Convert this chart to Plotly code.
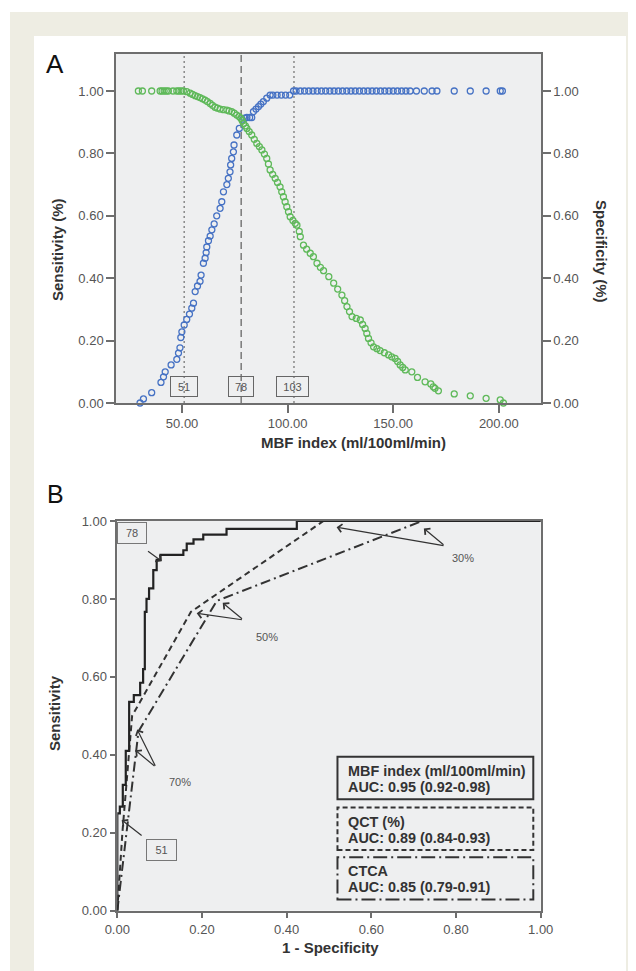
import plotly.graph_objects as go

# ---------------- Data ----------------
# Panel A: sensitivity (blue) vs MBF index
sens_mbf = [30.1, 31.7, 35.6, 40.0, 41.2, 42.0, 44.8, 47.5, 48.3, 49.0, 49.4, 49.9, 51.0, 52.2,
            53.5, 54.6, 55.4, 56.2, 57.3, 58.5, 59.0, 60.1, 60.9, 61.4, 61.7, 62.5, 63.3, 64.1,
            65.2, 66.4, 68.0, 68.8, 69.6, 71.2, 71.9, 72.7, 73.0, 73.5, 74.3, 74.6, 75.9, 77.1,
            78.6, 79.6, 80.7, 82.0, 83.0, 83.8, 85.0, 86.2, 87.3, 88.5, 90.1, 91.7, 93.0, 95.0,
            97.0, 99.0, 101.0, 102.8, 104.0, 106.0, 108.0, 110.0, 112.0, 114.0, 116.0, 118.0,
            120.0, 122.0, 124.0, 126.0, 128.0, 130.0, 132.0, 134.0, 136.0, 138.0, 140.0, 142.0,
            144.0, 146.0, 148.0, 150.0, 152.0, 154.0, 156.0, 158.0, 161.0, 164.7, 168.4, 170.7,
            178.9, 186.5, 194.0, 200.7, 201.7]
sens_val = [0.0, 0.013, 0.033, 0.066, 0.084, 0.10, 0.122, 0.14, 0.16, 0.177, 0.21, 0.228, 0.25, 0.268,
            0.285, 0.304, 0.32, 0.357, 0.375, 0.39, 0.41, 0.448, 0.464, 0.482, 0.50, 0.52, 0.535, 0.555,
            0.574, 0.60, 0.624, 0.645, 0.677, 0.70, 0.72, 0.741, 0.763, 0.784, 0.805, 0.827, 0.859, 0.88,
            0.907, 0.913, 0.915, 0.915, 0.915, 0.934, 0.942, 0.95, 0.958, 0.966, 0.977, 0.987, 0.987, 0.987,
            0.987, 0.987, 0.987, 1.0, 1.0, 1.0, 1.0, 1.0, 1.0, 1.0, 1.0, 1.0,
            1.0, 1.0, 1.0, 1.0, 1.0, 1.0, 1.0, 1.0, 1.0, 1.0, 1.0, 1.0,
            1.0, 1.0, 1.0, 1.0, 1.0, 1.0, 1.0, 1.0, 1.0, 1.0, 1.0, 1.0,
            1.0, 1.0, 1.0, 1.0, 1.0]

# Panel A: specificity (green) vs MBF index
spec_mbf = [29.3, 31.2, 35.6, 39.6, 40.5, 41.5, 42.5, 43.5, 45.7, 47.5, 48.5, 49.5, 50.6,
            52.2, 53.8, 55.0, 56.2, 57.3, 58.5, 59.7, 60.9, 62.0, 63.3, 64.4, 65.6, 66.8, 68.0,
            69.6, 71.2, 72.3, 73.5, 74.7, 75.9, 77.0, 77.8, 78.5, 79.1, 80.0, 80.7, 81.8, 83.0,
            84.2, 85.4, 86.6, 87.8, 89.0, 90.1, 90.9, 91.7, 92.9, 94.1, 95.2, 96.4, 97.2, 98.0,
            98.8, 99.6, 100.4, 101.2, 102.5, 103.6, 104.4, 105.5, 106.0, 107.5, 109.0, 110.7,
            112.2, 113.9, 115.5, 117.0, 119.5, 121.8, 123.7, 125.7, 127.0, 128.1, 129.3, 130.5,
            132.5, 134.4, 135.5, 136.7, 137.5, 138.3, 139.5, 140.7, 142.3, 143.8, 145.8, 147.8,
            149.3, 150.9, 152.1, 153.3, 154.5, 155.7, 158.8, 161.5, 165.1, 167.8, 169.0, 169.8,
            171.4, 178.9, 186.5, 194.0, 200.7, 202.2]
spec_val = [1.0, 1.0, 1.0, 1.0, 1.0, 1.0, 1.0, 1.0, 1.0, 1.0, 1.0, 1.0, 1.0,
            0.998, 0.993, 0.989, 0.985, 0.982, 0.979, 0.975, 0.971, 0.966, 0.96, 0.954, 0.948, 0.945, 0.942,
            0.94, 0.939, 0.936, 0.934, 0.929, 0.923, 0.918, 0.913, 0.905, 0.896, 0.888, 0.88, 0.87, 0.859,
            0.845, 0.832, 0.822, 0.811, 0.798, 0.784, 0.766, 0.747, 0.733, 0.72, 0.707, 0.693, 0.677, 0.661,
            0.645, 0.629, 0.613, 0.597, 0.585, 0.576, 0.57, 0.55, 0.533, 0.506, 0.493, 0.48,
            0.469, 0.448, 0.435, 0.424, 0.405, 0.384, 0.365, 0.346, 0.328, 0.309, 0.293, 0.277,
            0.271, 0.266, 0.252, 0.239, 0.223, 0.207, 0.193, 0.18, 0.174, 0.168, 0.161, 0.154,
            0.148, 0.143, 0.133, 0.122, 0.114, 0.106, 0.10, 0.082, 0.068, 0.061, 0.052, 0.047,
            0.039, 0.029, 0.023, 0.015, 0.01, 0.0]

cutoffs = [51, 78, 103]
cutoff_labels = ["51", "78", "103"]

# Panel B: ROC curves
mbf_fpr = [0, 0, 0.006, 0.006, 0.013, 0.013, 0.020, 0.020, 0.028, 0.028, 0.039, 0.039, 0.054, 0.054,
           0.061, 0.061, 0.065, 0.065, 0.069, 0.069, 0.075, 0.075, 0.085, 0.085, 0.093, 0.093, 0.102,
           0.102, 0.156, 0.156, 0.164, 0.164, 0.180, 0.180, 0.203, 0.203, 0.258, 0.258, 0.424, 0.424, 1.0]
mbf_tpr = [0, 0.25, 0.25, 0.267, 0.267, 0.323, 0.323, 0.41, 0.41, 0.536, 0.536, 0.553, 0.553, 0.585,
           0.585, 0.62, 0.62, 0.767, 0.767, 0.80, 0.80, 0.827, 0.827, 0.874, 0.874, 0.90, 0.90,
           0.913, 0.913, 0.925, 0.925, 0.942, 0.942, 0.953, 0.953, 0.965, 0.965, 0.98, 0.98, 1.0, 1.0]
qct_fpr = [0, 0.012, 0.035, 0.174, 0.487, 1.0]
qct_tpr = [0, 0.2, 0.50, 0.767, 1.0, 1.0]
ctca_fpr = [0, 0.05, 0.235, 0.72, 1.0]
ctca_tpr = [0, 0.46, 0.795, 1.0, 1.0]

legend_lines = [("MBF index (ml/100ml/min)", "AUC: 0.95 (0.92-0.98)"),
                ("QCT (%)", "AUC: 0.89 (0.84-0.93)"),
                ("CTCA", "AUC: 0.85 (0.79-0.91)")]
ticks_a_y = [0, 0.2, 0.4, 0.6, 0.8, 1.0]
ticks_a_x = [50, 100, 150, 200]
ticks_b = [0, 0.2, 0.4, 0.6, 0.8, 1.0]

# ---------------- Layout helpers ----------------
OFF = 8  # page body margin
W, H = 636 - OFF, 971 - OFF
def px(x):
    return (x - OFF) / W
def py(y):
    return 1 - (y - OFF) / H

FONT = "Liberation Sans, Arial, sans-serif"
BLUE = "#4672c4"
GREEN = "#5fb95a"
AXC = "#6e6e6e"
TICKF = dict(family=FONT, size=13, color="#555555")

fig = go.Figure()

fig.add_trace(go.Scatter(x=sens_mbf, y=sens_val, mode="markers", xaxis="x", yaxis="y",
                         marker=dict(symbol="circle-open", size=6, color=BLUE, line=dict(width=1.3)),
                         cliponaxis=False, showlegend=False, name="Sensitivity"))
fig.add_trace(go.Scatter(x=spec_mbf, y=spec_val, mode="markers", xaxis="x", yaxis="y2",
                         marker=dict(symbol="circle-open", size=6, color=GREEN, line=dict(width=1.3)),
                         cliponaxis=False, showlegend=False, name="Specificity"))

fig.add_trace(go.Scatter(x=ctca_fpr, y=ctca_tpr, mode="lines", xaxis="x2", yaxis="y3",
                         line=dict(color="#333333", width=2, dash="10px,4px,2px,4px"),
                         showlegend=False, name="CTCA"))
fig.add_trace(go.Scatter(x=qct_fpr, y=qct_tpr, mode="lines", xaxis="x2", yaxis="y3",
                         line=dict(color="#333333", width=2, dash="6px,4px"),
                         showlegend=False, name="QCT"))
fig.add_trace(go.Scatter(x=mbf_fpr, y=mbf_tpr, mode="lines", xaxis="x2", yaxis="y3",
                         line=dict(color="#222222", width=2.2),
                         showlegend=False, name="MBF index"))

axis_common = dict(showgrid=False, zeroline=False, showline=True, linecolor=AXC, linewidth=1.5,
                   ticks="outside", tickcolor=AXC, tickwidth=1.5, tickfont=TICKF, tickformat=".2f")

fig.update_layout(
    width=W, height=H,
    margin=dict(l=0, r=0, t=0, b=0, autoexpand=False),
    paper_bgcolor="white",
    plot_bgcolor="#eeeff0",
    font=dict(family=FONT),
    xaxis=dict(domain=[px(116), px(541)], anchor="y", range=[18.7, 220], tickvals=ticks_a_x,
               ticklen=8, mirror=True, **axis_common),
    yaxis=dict(domain=[py(403), py(54)], anchor="x", range=[0, 1.1186], tickvals=ticks_a_y,
               ticklen=8, mirror=True, **axis_common),
    yaxis2=dict(overlaying="y", side="right", anchor="x", range=[0, 1.1186], tickvals=ticks_a_y,
                ticklen=8, **axis_common),
    xaxis2=dict(domain=[px(117.3), px(540.7)], anchor="y3", range=[0, 1], tickvals=ticks_b,
                ticklen=6, mirror=True, **axis_common),
    yaxis3=dict(domain=[py(910.7), py(521)], anchor="x2", range=[0, 1], tickvals=ticks_b,
                ticklen=6, mirror=True, **axis_common),
)

shapes = []
BEIGE = "#eeede3"
for (x0, y0, x1, y1) in [(10, 12, 636, 36), (10, 12, 34, 971), (626, 12, 636, 971)]:
    shapes.append(dict(type="rect", xref="paper", yref="paper", x0=px(x0), x1=px(x1),
                       y0=py(y1), y1=py(y0), fillcolor=BEIGE, line=dict(width=0), layer="below"))

# cutoff lines panel A
for c, st in zip(cutoffs, ["dot", "dash", "dot"]):
    shapes.append(dict(type="line", xref="x", yref="y domain", x0=c, x1=c, y0=0, y1=1,
                       line=dict(color="#808080", width=1.6 if st == "dash" else 1.4,
                                 dash="7px,4px" if st == "dash" else "2px,3px"),
                       layer="below"))

# legend boxes panel B
box_y = [(0.286, 0.395), (0.156, 0.265), (0.029, 0.137)]
box_dash = ["solid", "5px,3px", "14px,4px,2px,4px"]
for (y0, y1), d in zip(box_y, box_dash):
    shapes.append(dict(type="rect", xref="x2", yref="y3", x0=0.52, x1=0.9825, y0=y0, y1=y1,
                       line=dict(color="#333333", width=2, dash=d), fillcolor="rgba(0,0,0,0)"))
fig.update_layout(shapes=shapes)

ann = []
def paper_text(text, x, y, size, color, angle=0, bold=False):
    return dict(text=("<b>%s</b>" % text) if bold else text, x=px(x), y=py(y), xref="paper",
                yref="paper", xanchor="center", yanchor="middle", textangle=angle,
                showarrow=False, font=dict(family=FONT, size=size, color=color))

# panel letters
ann.append(paper_text("A", 55, 64, 26, "#111111"))
ann.append(paper_text("B", 55, 494, 25, "#111111"))
# axis titles
ann.append(paper_text("Sensitivity (%)", 58, 250, 15, "#333333", angle=-90, bold=True))
ann.append(paper_text("Specificity (%)", 601, 251, 15, "#333333", angle=90, bold=True))
ann.append(paper_text("MBF index (ml/100ml/min)", 353, 443, 15, "#333333", bold=True))
ann.append(paper_text("Sensitivity", 54, 713, 15, "#333333", angle=-90, bold=True))
ann.append(paper_text("1 - Specificity", 330, 947, 15, "#333333", bold=True))

BOXF = dict(family=FONT, size=11, color="#555555")
# cutoff boxes panel A
for c, lab, xc, w in zip(cutoffs, cutoff_labels, [51.0, 77.9, 102.4], [28, 26, 33]):
    ann.append(dict(text=lab, x=xc, y=0.053, xref="x", yref="y", showarrow=False, font=BOXF,
                    xanchor="center", yanchor="middle",
                    bordercolor="#666666", borderwidth=1, borderpad=0, width=w - 2, height=19))

# panel B box labels
for lab, (xc, yc), w in zip(["103", "78", "51"], [(0.529, 1.088), (0.0347, 0.970), (0.105, 0.157)],
                            [36, 28, 29]):
    ann.append(dict(text=lab, x=xc, y=yc, xref="x2", yref="y3", showarrow=False, font=BOXF,
                    xanchor="center", yanchor="middle",
                    bordercolor="#777777", borderwidth=1, borderpad=0, width=w, height=20))

# percent labels
for lab, (xc, yc) in zip(["50%", "30%", "70%"], [(0.353, 0.703), (0.817, 0.904), (0.148, 0.329)]):
    ann.append(dict(text=lab, x=xc, y=yc, xref="x2", yref="y3", showarrow=False, font=BOXF,
                    xanchor="center", yanchor="middle"))

# arrows panel B (tip, tail)
arrows = [((0.43, 1.015), (0.472, 1.054)),
          ((0.105, 0.897), (0.069, 0.925)),
          ((0.1875, 0.763), (0.298, 0.746)),
          ((0.249, 0.790), (0.298, 0.746)),
          ((0.518, 0.984), (0.774, 0.936)),
          ((0.724, 0.981), (0.774, 0.936)),
          ((0.0425, 0.412), (0.0914, 0.368)),
          ((0.047, 0.465), (0.0914, 0.368)),
          ((0.0104, 0.233), (0.061, 0.19))]
for (tx, ty), (ax_, ay_) in arrows:
    ann.append(dict(text="", x=tx, y=ty, ax=ax_, ay=ay_, xref="x2", yref="y3", axref="x2",
                    ayref="y3", showarrow=True, arrowhead=4, arrowsize=1.3, arrowwidth=1.2,
                    arrowcolor="#333333"))

# legend texts panel B (each line placed separately)
line_y = [(770.7, 786.7), (821.7, 837.7), (871.0, 887.3)]
for (l1, l2), (y1, y2) in zip(legend_lines, line_y):
    for t, yy in ((l1, y1), (l2, y2)):
        ann.append(dict(text="<b>" + t + "</b>", x=px(345.5), y=py(yy), xref="paper", yref="paper",
                        xanchor="left", yanchor="middle", align="left", showarrow=False,
                        font=dict(family=FONT, size=14.4, color="#333333")))

fig.update_layout(annotations=ann)

fig.write_html("out.html")
